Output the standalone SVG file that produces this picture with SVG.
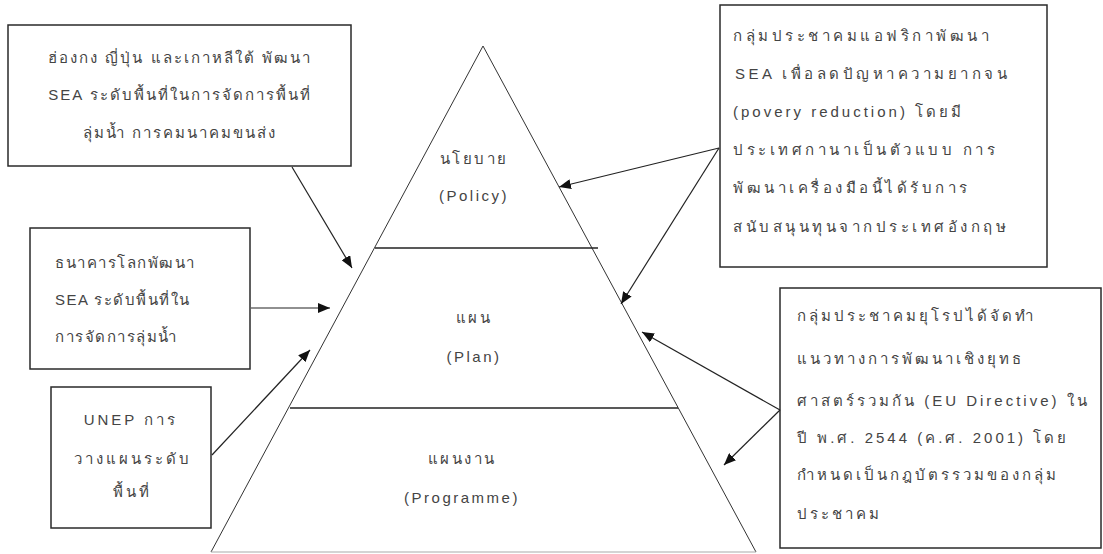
<svg xmlns="http://www.w3.org/2000/svg" width="1103" height="554" viewBox="0 0 1103 554">
<style>
.bg{fill:#ffffff}
.box{fill:#ffffff;stroke:#2a2a2a;stroke-width:1.5}
.tri{fill:none;stroke:#333;stroke-width:1}
.hl{stroke:#222;stroke-width:1.4}
.base{stroke:#aaa;stroke-width:1.2}
.conn{fill:none;stroke:#222;stroke-width:1.2}
text{font-family:"Liberation Sans","Noto Sans","DejaVu Sans",sans-serif;font-size:15px;fill:#444;letter-spacing:1.5px}
.c{text-anchor:middle}
.lbl{letter-spacing:2.5px}
.s2{letter-spacing:2px}
.s3{letter-spacing:3px}
.s35{letter-spacing:3.5px}
</style>
<defs>
<marker id="ah" markerWidth="13" markerHeight="10" refX="12" refY="5" orient="auto" markerUnits="userSpaceOnUse">
<path d="M0,0 L12,5 L0,10 z" fill="#111"/>
</marker>
</defs>
<rect class="bg" x="0" y="0" width="1103" height="554"/>

<g id="pyramid">
<polyline class="tri" points="211,552 483,46 756,552"/>
<line class="base" x1="211" y1="552" x2="756" y2="552"/>
<line class="hl" x1="375" y1="248" x2="598" y2="248"/>
<line class="hl" x1="290" y1="408" x2="678" y2="408"/>
</g>

<g id="level-policy">
<text class="c lbl" x="474" y="164">นโยบาย</text>
<text class="c lbl" x="474" y="201">(Policy)</text>
</g>
<g id="level-plan">
<text class="c lbl" x="474" y="323">แผน</text>
<text class="c lbl" x="474" y="362">(Plan)</text>
</g>
<g id="level-programme">
<text class="c lbl" x="462" y="464">แผนงาน</text>
<text class="c lbl" x="462" y="503">(Programme)</text>
</g>

<g id="box-asia">
<rect class="box" x="8" y="25" width="343" height="141"/>
<text class="c s2" x="180" y="63">ฮ่องกง ญี่ปุ่น และเกาหลีใต้ พัฒนา</text>
<text class="c s2" x="180" y="100">SEA ระดับพื้นที่ในการจัดการพื้นที่</text>
<text class="c s2" x="180" y="138">ลุ่มน้ำ การคมนาคมขนส่ง</text>
</g>

<g id="box-worldbank">
<rect class="box" x="30" y="228" width="220" height="141"/>
<text x="55" y="268">ธนาคารโลกพัฒนา</text>
<text x="55" y="305">SEA ระดับพื้นที่ใน</text>
<text x="55" y="342">การจัดการลุ่มน้ำ</text>
</g>

<g id="box-unep">
<rect class="box" x="51" y="387" width="160" height="141"/>
<text class="c s3" x="131" y="425">UNEP การ</text>
<text class="c s3" x="133" y="464">วางแผนระดับ</text>
<text class="c s3" x="132" y="497">พื้นที่</text>
</g>

<g id="box-africa">
<rect class="box" x="720" y="5" width="327" height="262"/>
<text class="s35" x="733" y="41">กลุ่มประชาคมแอฟริกาพัฒนา</text>
<text class="s35" x="735" y="79">SEA เพื่อลดปัญหาความยากจน</text>
<text class="s3" x="733" y="117">(povery reduction) โดยมี</text>
<text class="s35" x="733" y="155">ประเทศกานาเป็นตัวแบบ การ</text>
<text class="s35" x="733" y="193">พัฒนาเครื่องมือนี้ได้รับการ</text>
<text class="s35" x="733" y="232">สนับสนุนทุนจากประเทศอังกฤษ</text>
</g>

<g id="box-eu">
<rect class="box" x="780" y="288" width="321" height="260"/>
<text class="s3" x="797" y="321">กลุ่มประชาคมยุโรปได้จัดทำ</text>
<text class="s3" x="797" y="364">แนวทางการพัฒนาเชิงยุทธ</text>
<text class="s3" x="797" y="406">ศาสตร์รวมกัน (EU Directive) ใน</text>
<text class="s3" x="797" y="443">ปี พ.ศ. 2544 (ค.ศ. 2001) โดย</text>
<text class="s3" x="797" y="480">กำหนดเป็นกฎบัตรรวมของกลุ่ม</text>
<text class="s3" x="797" y="519">ประชาคม</text>
</g>

<g id="connectors">
<line class="conn" x1="292" y1="167" x2="352" y2="268" marker-end="url(#ah)"/>
<line class="conn" x1="251" y1="308" x2="330" y2="308" marker-end="url(#ah)"/>
<line class="conn" x1="212" y1="455" x2="310" y2="350" marker-end="url(#ah)"/>
<line class="conn" x1="719" y1="148" x2="559" y2="187" marker-end="url(#ah)"/>
<line class="conn" x1="719" y1="148" x2="621" y2="304" marker-end="url(#ah)"/>
<line class="conn" x1="780" y1="410" x2="642" y2="332" marker-end="url(#ah)"/>
<line class="conn" x1="780" y1="410" x2="724" y2="465" marker-end="url(#ah)"/>
</g>
</svg>
